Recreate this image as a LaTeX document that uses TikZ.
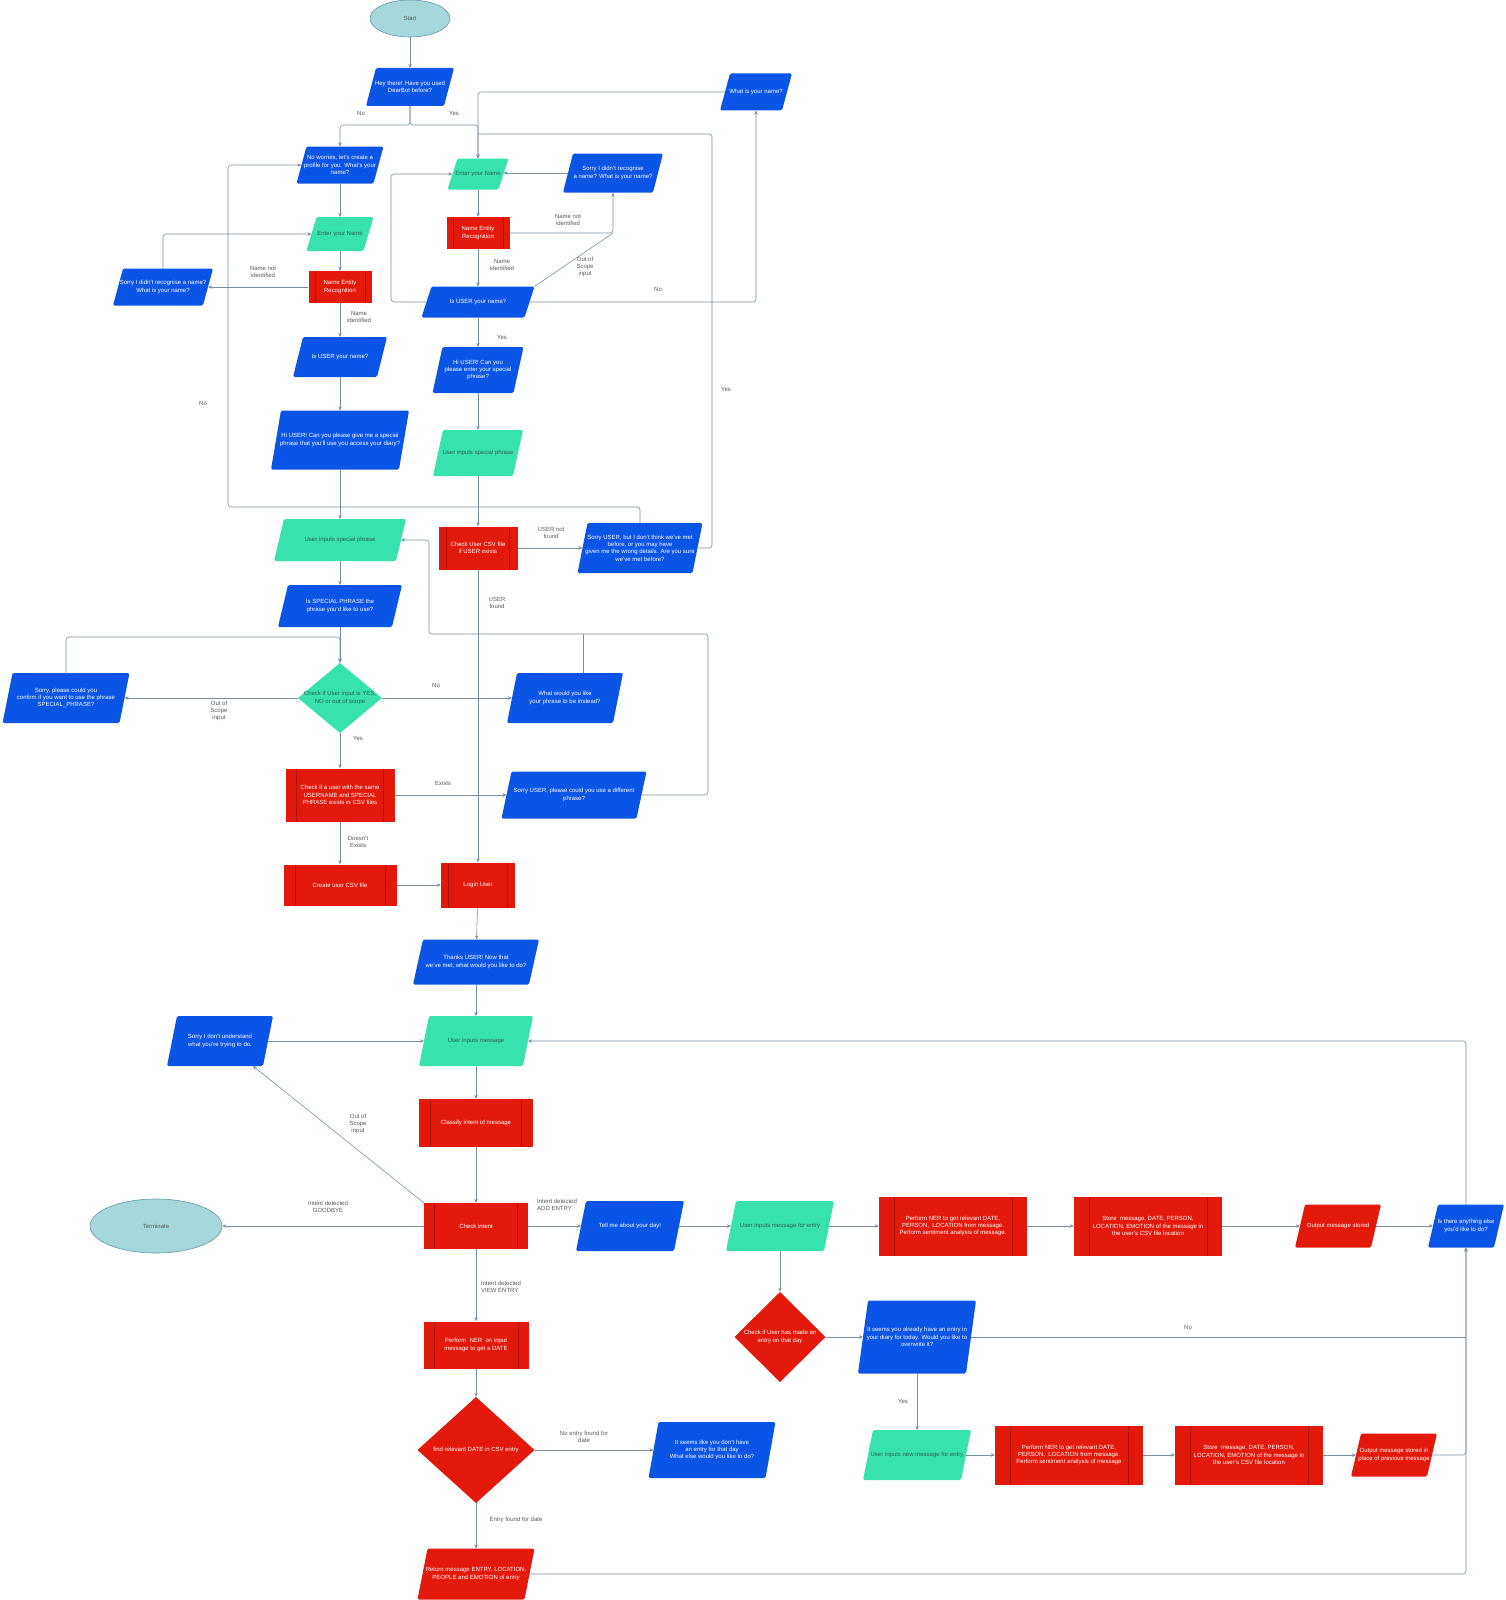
\documentclass[tikz,border=0pt]{standalone}
\usepackage{fontspec}
\setmainfont{Liberation Sans}
\usetikzlibrary{shapes.geometric,arrows.meta,calc}
\definecolor{bluefill}{HTML}{0A55E6}
\definecolor{redfill}{HTML}{E3190B}
\definecolor{procline}{HTML}{A8150C}
\definecolor{tealfill}{HTML}{38E2AE}
\definecolor{tealtext}{HTML}{2E5F57}
\definecolor{ellfill}{HTML}{A6D7DA}
\definecolor{ellline}{HTML}{5E9CA3}
\definecolor{linecol}{HTML}{7890A5}
\definecolor{labcol}{HTML}{555A60}
\newcommand\dfont{\fontsize{6}{7.3}\selectfont}
\tikzset{
  base/.style={inner sep=1pt, align=center, font=\dfont, text=white},
  sz/.style 2 args={minimum width=#1pt, minimum height=#2pt},
  para/.style={base, outer xsep=-5pt, outer ysep=0pt,
    path picture={\fill[#1, rounded corners=1.5pt]
      ([xshift=10pt]path picture bounding box.north west) --
      (path picture bounding box.north east) --
      ([xshift=-10pt]path picture bounding box.south east) --
      (path picture bounding box.south west) -- cycle;}},
  bluep/.style={para=bluefill},
  tealp/.style={para=tealfill, text=tealtext},
  redp/.style={para=redfill},
  proc/.style={base, fill=redfill,
    path picture={
      \draw[procline, line width=0.4pt]
        ($(path picture bounding box.north west)!0.1!(path picture bounding box.north east)$) --
        ($(path picture bounding box.south west)!0.1!(path picture bounding box.south east)$);
      \draw[procline, line width=0.4pt]
        ($(path picture bounding box.north west)!0.9!(path picture bounding box.north east)$) --
        ($(path picture bounding box.south west)!0.9!(path picture bounding box.south east)$);}},
  dia/.style={base,
    path picture={\fill[#1]
      (path picture bounding box.north) -- (path picture bounding box.east) --
      (path picture bounding box.south) -- (path picture bounding box.west) -- cycle;}},
  ell/.style={ellipse, fill=ellfill, draw=ellline, line width=0.6pt, font=\dfont, text=labcol, inner sep=0pt},
  conn/.style={draw=linecol, line width=0.6pt, rounded corners=3pt},
  arr/.style={conn, -{Stealth[length=4pt, width=3.5pt]}},
  lab/.style={font=\dfont, text=labcol, align=center, inner sep=0pt},
}
\begin{document}
\begin{tikzpicture}[x=1pt, y=-1pt]
\useasboundingbox (0,0) rectangle (1505,1600);
\fill[white] (0,0) rectangle (1505,1600);

% ---------- top section ----------
\node[ell, sz={80}{37}] (start) at (410,18.5) {Start};
\node[bluep, sz={88}{38}] (hey) at (410,87) {Hey there! Have you used\\DearBot before?};
\node[bluep, sz={72}{37}] (whatname) at (756,92) {What is your name?};
\node[bluep, sz={87}{37}] (nowor) at (340,165) {No worries, let's create a\\profile for you. What's your\\name?};
\node[tealp, sz={61}{31}] (enterR) at (478,174) {Enter your Name};
\node[bluep, sz={100}{39}] (sorryRR) at (613,173) {Sorry I didn't recognise\\a name? What is your name?};
\node[proc, sz={63}{32}] (nerR) at (478,233) {Name Entity\\Recognition};
\node[bluep, sz={113}{31}] (isuserR) at (478,302) {Is USER your name?};
\node[bluep, sz={91}{46}] (hiR) at (478,370) {Hi USER! Can you\\please enter your special\\phrase?};
\node[tealp, sz={90}{46}] (uispR) at (478,453) {User inputs special phrase};
\node[proc, sz={79}{43}] (csv) at (478,548) {Check User CSV file\\if USER exists};
\node[bluep, sz={125}{50}] (sorryU) at (640,548) {Sorry USER, but I don't think we've met\\before, or you may have\\given me the wrong details. Are you sure\\we've met before?};

\node[tealp, sz={67}{34}] (enterL) at (340,234) {Enter your Name};
\node[proc, sz={63}{32}] (nerL) at (340,287) {Name Entity\\Recognition};
\node[bluep, sz={100}{37}] (sorryL) at (163,287) {Sorry I didn't recognise a name?\\What is your name?};
\node[bluep, sz={94}{40}] (isuserL) at (340,357) {Is USER your name?};
\node[bluep, sz={138}{59}] (hiL) at (340,440) {Hi USER! Can you please give me a special\\phrase that you'll use you access your diary?};
\node[tealp, sz={132}{42}] (uispL) at (340,540) {User inputs special phrase};
\node[bluep, sz={124}{42}] (isspec) at (340,606) {Is SPECIAL PHRASE the\\phrase you'd like to use?};
\node[dia=tealfill, text=tealtext, sz={84}{70}] (chk) at (340,698) {Check if User input is YES,\\NO or out of scope};
\node[bluep, sz={127}{50}] (sorryconf) at (66,698) {Sorry, please could you\\confirm if you want to use the phrase\\SPECIAL\_PHRASE?};
\node[bluep, sz={116}{50}] (whatphrase) at (565,698) {What would you like\\your phrase to be instead?};
\node[proc, sz={109}{53}] (checkuser) at (340,795) {Check if a user with the same\\USERNAME and SPECIAL\\PHRASE exists in CSV files};
\node[bluep, sz={145}{47}] (sorrydiff) at (574,795) {Sorry USER, please could you use a different\\phrase?};
\node[proc, sz={113}{41}] (create) at (340,885) {Create user CSV file};
\node[proc, sz={74}{45}] (login) at (478,885) {Login User};

% ---------- lower section ----------
\node[bluep, sz={126}{45}] (thanks) at (476,962) {Thanks USER! Now that\\we've met, what would you like to do?};
\node[tealp, sz={114}{50}] (uimsg) at (476,1041) {User inputs message};
\node[bluep, sz={106}{50}] (sorryund) at (220,1041) {Sorry I don't understand\\what you're trying to do.};
\node[proc, sz={114}{48}] (classify) at (476,1123) {Classify intent of message};
\node[proc, sz={104}{46}] (checkintent) at (476,1226) {Check intent};
\node[ell, sz={132}{54}] (terminate) at (156,1226) {Terminate};
\node[bluep, sz={108}{50}] (tell) at (630,1226) {Tell me about your day!};
\node[tealp, sz={108}{50}] (uimsgentry) at (780,1226) {User inputs message for entry};
\node[proc, sz={148}{59}] (ner1) at (953,1226) {Perform NER to get relevant DATE,\\PERSON,\ \ LOCATION from message.\\Perform sentiment analysis of message.};
\node[proc, sz={148}{59}] (store1) at (1148,1226) {Store\ \ message, DATE, PERSON,\\LOCATION, EMOTION of the message in\\the user's CSV file location};
\node[redp, sz={86}{43}] (out1) at (1338,1226) {Output message stored};
\node[bluep, sz={76}{43}] (anything) at (1466,1226) {Is there anything else\\you'd like to do?};
\node[dia=redfill, sz={91}{90}] (checkmade) at (780,1337) {Check if User has made an\\entry on that day};
\node[bluep, sz={118}{73}] (overwrite) at (917,1337) {It seems you already have an entry in\\your diary for today. Would you like to\\overwrite it?};
\node[tealp, sz={108}{50}] (newmsg) at (917,1455) {User inputs new message for entry};
\node[proc, sz={148}{59}] (ner2) at (1069,1455) {Perform NER to get relevant DATE,\\PERSON,\ \ LOCATION from message.\\Perform sentiment analysis of message};
\node[proc, sz={148}{59}] (store2) at (1249,1455) {Store\ \ message, DATE, PERSON,\\LOCATION, EMOTION of the message in\\the user's CSV file location};
\node[redp, sz={86}{43}] (out2) at (1394,1455) {Output message stored in\\place of previous message};
\node[proc, sz={105}{47}] (nerdate) at (476,1345) {Perform\ \ NER\ \ on input\\message to get a DATE};
\node[dia=redfill, sz={117}{106}] (finddate) at (476,1450) {find relevant DATE in CSV entry};
\node[bluep, sz={127}{56}] (nodate) at (712,1450) {It seems like you don't have\\an entry for that day\\What else would you like to do?};
\node[redp, sz={117}{51}] (returnmsg) at (476,1574) {Return message ENTRY, LOCATION,\\PEOPLE and EMOTION of entry};

% ---------- bend coordinates ----------
\coordinate (splitA) at (410,125);
\coordinate (yesTop) at (712,134);
\coordinate (yesJoin) at (478,134);
\coordinate (oosR) at (613,233);
\coordinate (loopR) at (391,302);
\coordinate (noL) at (228,507);
\coordinate (confTop) at (340,637);
\coordinate (loopTR) at (708,634);
\coordinate (loopTL) at (429,540);
\coordinate (loopJoin) at (583,634);
\coordinate (noRight) at (1466,1337);

% ---------- connectors ----------
\draw[arr] (start) -- (hey);
\draw[arr] (hey.south) -- (splitA) -| (nowor.north);
\draw[arr] (hey.south) -- (splitA) -| (enterR.north);
\draw[arr] (whatname.west) -| (enterR.north);
\draw[conn] (sorryU.east) -| (yesTop) -- (yesJoin);
\draw[arr] (sorryRR.west) -- (sorryRR.west -| enterR.east);
\draw[arr] (enterR) -- (nerR);
\draw[arr] (nerR) -- (isuserR);
\draw[arr] (nerR.east) -| (sorryRR.south);
\draw[conn] ([xshift=5pt]isuserR.north east) -- (oosR);
\draw[arr] (isuserR.east) -| (whatname.south);
\draw[arr] (isuserR.west) -- (loopR) |- (enterR.west);
\draw[arr] (isuserR) -- (hiR);
\draw[arr] (hiR) -- (uispR);
\draw[arr] (uispR) -- (csv);
\draw[arr] (csv.east) -- (sorryU.west);
\draw[arr] (csv.south) -- (login.north);
\draw[arr] (sorryU.north) |- (noL) |- (nowor.west);
\draw[arr] (nowor) -- (enterL);
\draw[arr] (enterL) -- (nerL);
\draw[arr] (nerL.west) -- (sorryL.east);
\draw[arr] (sorryL.north) |- (enterL.west);
\draw[arr] (nerL) -- (isuserL);
\draw[arr] (isuserL) -- (hiL);
\draw[arr] (hiL) -- (uispL);
\draw[arr] (uispL) -- (isspec);
\draw[arr] (isspec) -- (chk);
\draw[arr] (chk.west) -- (sorryconf.east);
\draw[arr] (sorryconf.north) |- (confTop) -- (chk.north);
\draw[arr] (chk.east) -- (whatphrase.west);
\draw[arr] (chk.south) -- (checkuser.north);
\draw[arr] (checkuser.east) -- (sorrydiff.west);
\draw[arr] (sorrydiff.east) -| (loopTR) -| (loopTL) -- (uispL.east);
\draw[conn] ([xshift=18pt]whatphrase.north) -- (loopJoin);
\draw[arr] (checkuser) -- (create);
\draw[arr] (create.east) -- (login.west);
\draw[arr] (login) -- (thanks);
\draw[arr] (thanks) -- (uimsg);
\draw[arr] (uimsg) -- (classify);
\draw[arr] (classify) -- (checkintent);
\draw[arr] (checkintent.west) -- (terminate.east);
\draw[arr] (checkintent.north west) -- ([xshift=33pt]sorryund.south);
\draw[arr] (sorryund.east) -- (uimsg.west);
\draw[arr] (checkintent.east) -- (tell.west);
\draw[arr] (tell.east) -- (uimsgentry.west);
\draw[arr] (uimsgentry.east) -- (ner1.west);
\draw[arr] (ner1.east) -- (store1.west);
\draw[arr] (store1.east) -- (out1.west);
\draw[arr] (out1.east) -- (anything.west);
\draw[arr] (anything.north) |- (uimsg.east);
\draw[arr] (uimsgentry) -- (checkmade);
\draw[arr] (checkmade.east) -- (overwrite.west);
\draw[conn] (overwrite.east) -- (noRight);
\draw[arr] (overwrite) -- (newmsg);
\draw[arr] (newmsg) -- (ner2);
\draw[arr] (ner2) -- (store2);
\draw[arr] (store2) -- (out2);
\draw[arr] (out2.east) -| (anything.south);
\draw[arr] (returnmsg.east) -| (anything.south);
\draw[arr] (checkintent) -- (nerdate);
\draw[arr] (nerdate) -- (finddate);
\draw[arr] (finddate.east) -- (nodate.west);
\draw[arr] (finddate) -- (returnmsg);

% ---------- labels ----------
\node[lab] (l1) at (361,113) {No};
\node[lab] (l2) at (454,113) {Yes};
\node[lab] (l3) at (568,220) {Name not\\identified};
\node[lab] (l4) at (585,267) {Out of\\Scope\\input};
\node[lab] (l5) at (502,265) {Name\\identified};
\node[lab] (l6) at (658,289) {No};
\node[lab] (l7) at (502,337) {Yes};
\node[lab] (l8) at (726,389) {Yes};
\node[lab] (l9) at (263,272) {Name not\\identified};
\node[lab] (l10) at (359,317) {Name\\identified};
\node[lab] (l11) at (203,403) {No};
\node[lab] (l12) at (551,533) {USER not\\found};
\node[lab] (l13) at (497,603) {USER\\found};
\node[lab] (l14) at (219,711) {Out of\\Scope\\input};
\node[lab] (l15) at (436,685) {No};
\node[lab] (l16) at (358,738) {Yes};
\node[lab] (l17) at (443,783) {Exists};
\node[lab] (l18) at (358,842) {Doesn't\\Exists};
\node[lab] (l19) at (358,1124) {Out of\\Scope\\input};
\node[lab] (l20) at (328,1207) {Intent detected\\GOODBYE};
\node[lab, anchor=west, align=left] (l21) at (537,1205) {Intent detected\\ADD ENTRY};
\node[lab, anchor=west, align=left] (l22) at (481,1287) {Intent detected\\VIEW ENTRY};
\node[lab] (l23) at (584,1437) {No entry found for\\date};
\node[lab] (l24) at (516,1520) {Entry found for date};
\node[lab] (l25) at (903,1401) {Yes};
\node[lab] (l26) at (1188,1327) {No};
\end{tikzpicture}
\end{document}
